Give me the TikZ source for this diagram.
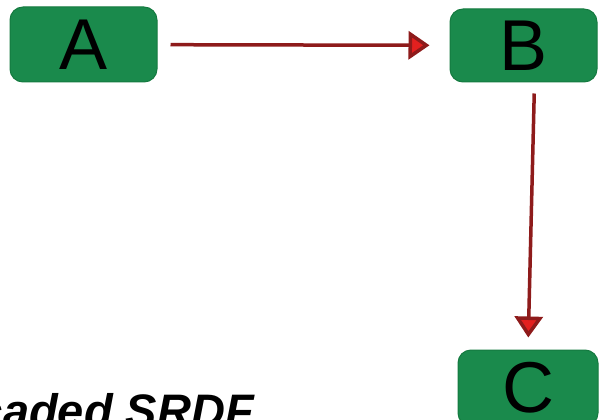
\documentclass[tikz,border=0pt]{standalone}
\usepackage{fontspec}
\setmainfont{Liberation Sans}
\usetikzlibrary{arrows.meta}
\definecolor{boxgreen}{HTML}{1A8A4C}
\definecolor{boxedge}{HTML}{157A40}
\definecolor{arrdark}{HTML}{8E1B1B}
\definecolor{arrred}{HTML}{E3201F}
\tikzset{
  box/.style={draw=boxedge, line width=1pt, fill=boxgreen, rounded corners=13pt,
    inner sep=0pt, font=\fontsize{72}{72}\selectfont, text=black},
  link/.style={draw=arrdark, line width=3.5pt,
    -{Triangle[length=21pt,width=28pt,fill=arrred]}}
}
\begin{document}
\begin{tikzpicture}[x=1pt,y=-1pt]
\clip (0,0) rectangle (600,420);
\fill[white] (0,0) rectangle (600,420);
\node[box, minimum width=147pt, minimum height=75pt] (A) at (83.5,44.5) {A};
\node[box, minimum width=147pt, minimum height=73pt] (B) at (523.5,45.5) {B};
\node[box, minimum width=140pt, minimum height=76pt] (C) at (528,388) {C};
\node[anchor=base east, inner sep=0pt, font=\fontsize{47}{47}\selectfont\bfseries\itshape] (T) at (254,427) {Cascaded SRDF};
\draw[link, shorten <=13pt, shorten >=20pt] (A) -- (B);
\draw[link, shorten <=11pt, shorten >=12pt] ([xshift=11pt]B.south) -- (C.north);
\end{tikzpicture}
\end{document}
